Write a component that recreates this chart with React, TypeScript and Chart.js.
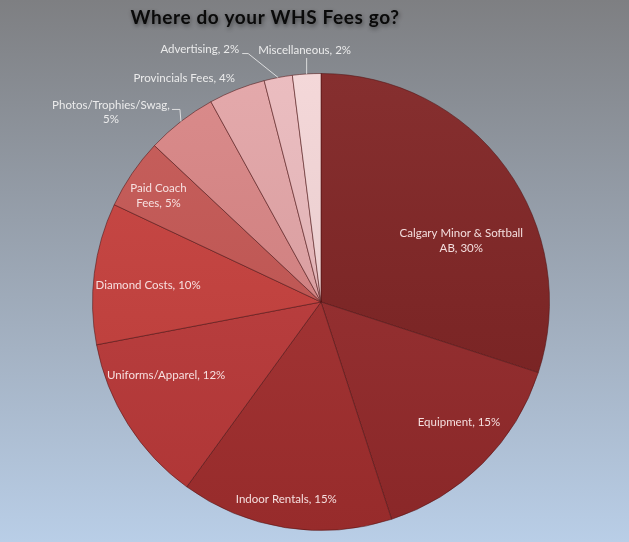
import React, { useEffect, useRef } from "react";
import { Chart, registerables } from "chart.js";

Chart.register(...registerables);

const TITLE = "Where do your WHS Fees go?";
const categories = [
  "Calgary Minor & Softball AB",
  "Equipment",
  "Indoor Rentals",
  "Uniforms/Apparel",
  "Diamond Costs",
  "Paid Coach Fees",
  "Photos/Trophies/Swag",
  "Provincials Fees",
  "Advertising",
  "Miscellaneous",
];
const values = [30, 15, 15, 12, 10, 5, 5, 4, 2, 2];
const colors = [
  "#7e2222",
  "#962a2b",
  "#a42f2f",
  "#bd3a3a",
  "#c73f3c",
  "#c55653",
  "#d88484",
  "#e2a4a6",
  "#eab9bc",
  "#f3d5d7",
];
// label text lines (as displayed)
const labelLines = [
  ["Calgary Minor & Softball", "AB, 30%"],
  ["Equipment, 15%"],
  ["Indoor Rentals, 15%"],
  ["Uniforms/Apparel, 12%"],
  ["Diamond Costs, 10%"],
  ["Paid Coach", "Fees, 5%"],
  ["Photos/Trophies/Swag,", "5%"],
  ["Provincials Fees, 4%"],
  ["Advertising, 2%"],
  ["Miscellaneous, 2%"],
];
type Place =
  | { kind: "in"; shift: number; frac: number }
  | { kind: "out"; dx: number; dy: number; align: CanvasTextAlign; leader: number[] | null };
const placements: Place[] = [
  { kind: "in", shift: 12.4, frac: 0.67 },
  { kind: "in", shift: -4, frac: 0.8 },
  { kind: "in", shift: 1, frac: 0.875 },
  { kind: "in", shift: 7, frac: 0.75 },
  { kind: "in", shift: -1.7, frac: 0.76 },
  { kind: "in", shift: -1, frac: 0.85 },
  { kind: "out", dx: -70, dy: -9, align: "center", leader: [-1, -12, -9, -12] },
  { kind: "out", dx: -2, dy: -11, align: "right", leader: null },
  { kind: "out", dx: -39, dy: -28, align: "right", leader: [-30, -24, -36, -24] },
  { kind: "out", dx: -2, dy: -24, align: "center", leader: [0, -16] },
];

const FONT = "Lato, 'Noto Sans', sans-serif";

function shade(hex: string, f: number) {
  const n = parseInt(hex.slice(1), 16);
  const ch = [(n >> 16) & 255, (n >> 8) & 255, n & 255].map((c) =>
    Math.max(0, Math.min(255, Math.round(f > 0 ? c + (255 - c) * f : c * (1 + f))))
  );
  return `rgb(${ch[0]},${ch[1]},${ch[2]})`;
}

const labelPlugin = {
  id: "customLabels",
  beforeDraw(chart: any) {
    const { ctx, width, height } = chart;
    const g = ctx.createLinearGradient(0, 0, 0, height);
    g.addColorStop(0, "#7e7f82");
    g.addColorStop(1, "#b9cee7");
    ctx.save();
    ctx.fillStyle = g;
    ctx.fillRect(0, 0, width, height);
    ctx.restore();
  },
  afterDraw(chart: any) {
    const { ctx } = chart;
    const meta = chart.getDatasetMeta(0);
    ctx.save();
    ctx.font = `bold 19px ${FONT}`;
    (ctx as any).letterSpacing = "0.6px";
    ctx.textAlign = "center";
    ctx.textBaseline = "middle";
    ctx.shadowColor = "rgba(0,0,0,0.45)";
    ctx.shadowBlur = 4;
    ctx.shadowOffsetX = 1;
    ctx.shadowOffsetY = 2;
    ctx.fillStyle = "#0a0a0a";
    ctx.fillText(TITLE, 265, 18);
    ctx.shadowColor = "transparent";
    (ctx as any).letterSpacing = "0px";

    ctx.font = `11.5px ${FONT}`;
    meta.data.forEach((arc: any, i: number) => {
      const p = arc.getProps(["x", "y", "startAngle", "endAngle", "outerRadius"], true);
      const mid = (p.startAngle + p.endAngle) / 2;
      const pl = placements[i];
      const lines = labelLines[i];
      const lh = 14.5;
      if (pl.kind === "in") {
        const a = mid + (pl.shift * Math.PI) / 180;
        const r = p.outerRadius * pl.frac;
        const cx = p.x + Math.cos(a) * r;
        const cy = p.y + Math.sin(a) * r;
        ctx.fillStyle = "rgba(250,232,232,0.95)";
        ctx.textAlign = "center";
        lines.forEach((t, k) => {
          ctx.fillText(t, cx, cy + (k - (lines.length - 1) / 2) * lh);
        });
      } else {
        const ex = p.x + Math.cos(mid) * p.outerRadius;
        const ey = p.y + Math.sin(mid) * p.outerRadius;
        if (pl.leader) {
          ctx.strokeStyle = "rgba(235,235,235,0.85)";
          ctx.lineWidth = 1;
          ctx.beginPath();
          ctx.moveTo(ex, ey);
          for (let k = 0; k < pl.leader.length; k += 2) {
            ctx.lineTo(ex + pl.leader[k], ey + pl.leader[k + 1]);
          }
          ctx.stroke();
        }
        ctx.fillStyle = "rgba(240,240,240,0.95)";
        ctx.textAlign = pl.align;
        lines.forEach((t, k) => {
          ctx.fillText(t, ex + pl.dx, ey + pl.dy + (k - (lines.length - 1) / 2) * lh);
        });
      }
    });
    ctx.restore();
  },
};

export default function App() {
  const ref = useRef<HTMLCanvasElement>(null);
  useEffect(() => {
    document.body.style.margin = "0";
    const chart = new Chart(ref.current!, {
      type: "pie",
      data: {
        labels: categories,
        datasets: [
          {
            data: values,
            backgroundColor: (c: any) => {
              const base = colors[c.dataIndex];
              const area = c.chart.chartArea;
              if (!area) return base;
              const g = c.chart.ctx.createLinearGradient(0, area.top, 0, area.bottom);
              g.addColorStop(0, shade(base, 0.06));
              g.addColorStop(1, shade(base, -0.08));
              return g;
            },
            borderColor: "rgba(80,20,20,0.55)",
            borderWidth: 1,
          },
        ],
      },
      options: {
        animation: false,
        responsive: false,
        layout: { padding: { top: 73, bottom: 11, left: 92, right: 79 } },
        plugins: {
          legend: { display: false },
          title: { display: false },
          tooltip: { enabled: false },
        },
      },
      plugins: [labelPlugin],
    });
    return () => chart.destroy();
  }, []);
  return (
    <div style={{ position: "absolute", left: 0, top: 0, width: 629, height: 542 }}>
      <canvas ref={ref} width={629} height={542} style={{ display: "block" }} />
    </div>
  );
}
